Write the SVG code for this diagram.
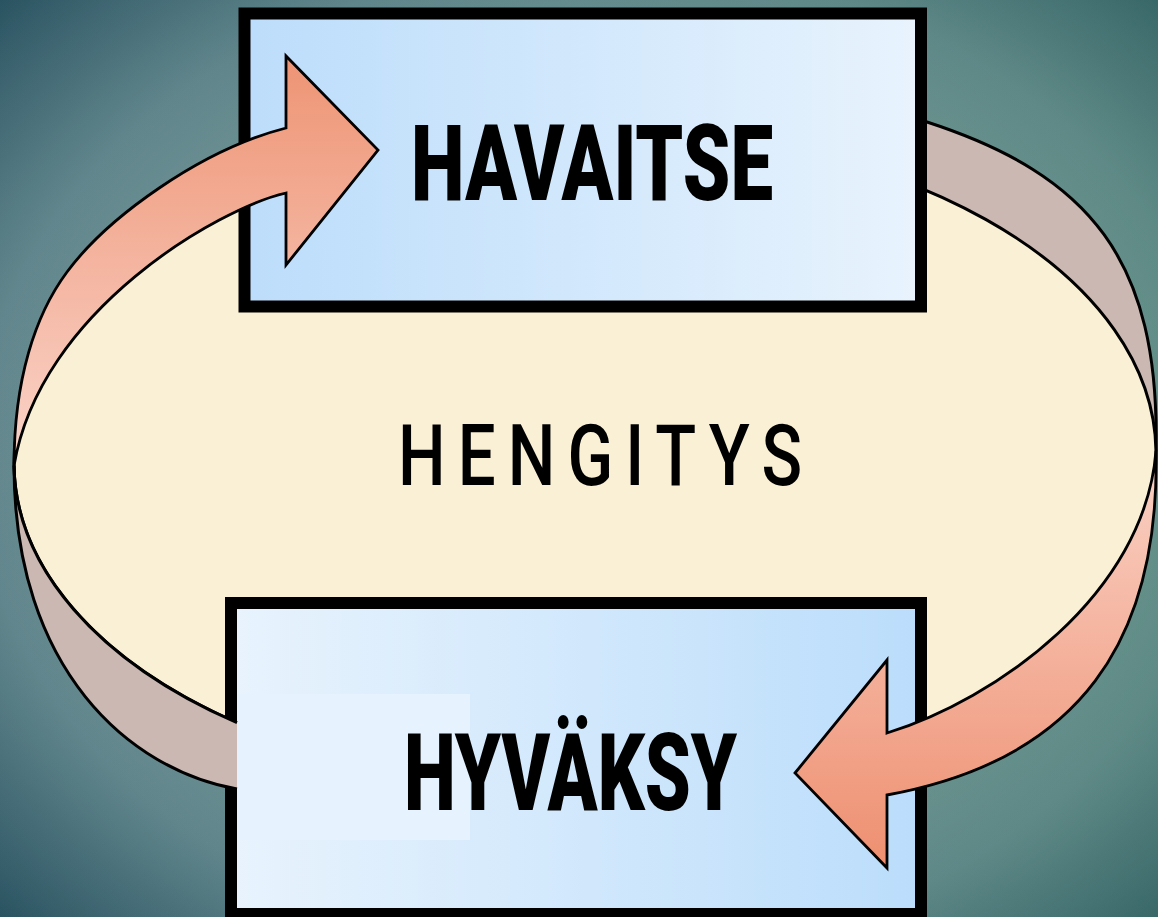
<svg xmlns="http://www.w3.org/2000/svg" width="1158" height="917" viewBox="0 0 1158 917">
  <defs>
    <radialGradient id="bg" cx="0.52" cy="0.5" r="0.72">
      <stop offset="0" stop-color="#A2BFB3"/>
      <stop offset="0.5" stop-color="#7E9F9D"/>
      <stop offset="0.75" stop-color="#66898D"/>
      <stop offset="1" stop-color="#28505D"/>
    </radialGradient>
    <linearGradient id="tint" x1="0" y1="0" x2="1" y2="0">
      <stop offset="0" stop-color="#3E6E86" stop-opacity="0.12"/>
      <stop offset="1" stop-color="#4C8C74" stop-opacity="0.3"/>
    </linearGradient>
    <linearGradient id="boxTop" x1="0" y1="0" x2="1" y2="0">
      <stop offset="0" stop-color="#BCDDFB"/>
      <stop offset="1" stop-color="#E8F3FD"/>
    </linearGradient>
    <linearGradient id="boxBottom" x1="0" y1="0" x2="1" y2="0">
      <stop offset="0" stop-color="#E8F3FD"/>
      <stop offset="1" stop-color="#BBDDFB"/>
    </linearGradient>
    <linearGradient id="arrowDown" x1="0" y1="0" x2="0" y2="1">
      <stop offset="0" stop-color="#EE9474"/>
      <stop offset="1" stop-color="#FAD4CA"/>
    </linearGradient>
    <linearGradient id="arrowUp" x1="0" y1="0" x2="0" y2="1">
      <stop offset="0" stop-color="#FAD2C6"/>
      <stop offset="1" stop-color="#EE8F70"/>
    </linearGradient>
  </defs>
  <style>
    .band { fill: #CBB8B2; stroke: #000; stroke-width: 3; stroke-linejoin: round; }
    .bandfill { fill: #CBB8B2; stroke: none; }
    .line { fill: none; stroke: #000; stroke-width: 3; }
    .cream { fill: #FAF0D5; stroke: #000; stroke-width: 3; }
    .box { stroke: #000; stroke-width: 12; }
    .arrow { stroke: #000; stroke-width: 2.8; stroke-linejoin: miter; }
    .title { font-family: Roboto, "Liberation Sans", sans-serif; font-weight: 900; fill: #000; }
    .center { font-family: Roboto, "Liberation Sans", sans-serif; font-weight: 500; fill: #000; }
  </style>

  <g id="background">
    <rect x="0" y="0" width="1158" height="917" fill="url(#bg)"/>
    <rect x="0" y="0" width="1158" height="917" fill="url(#tint)"/>
  </g>

  <g id="ring-back">
    <path class="band" d="M880,118 L927,122 C1090,175 1160,260 1156,450.5 L1050,450 L880,250 Z"/>
  </g>

  <g id="node-hengitys">
    <ellipse class="cream" cx="585" cy="458" rx="571" ry="330" transform="rotate(-0.75 585 458)"/>
    <text class="center" font-size="86" transform="translate(398,485) scale(0.78,1)" x="0" y="0" textLength="518" lengthAdjust="spacing">HENGITYS</text>
  </g>

  <g id="node-havaitse">
    <rect class="box" x="244.5" y="13.5" width="676.5" height="293" fill="url(#boxTop)"/>
    <text class="title" font-size="105" x="411" y="200" textLength="362" lengthAdjust="spacingAndGlyphs">HAVAITSE</text>
  </g>

  <g id="node-hyvaksy">
    <rect class="box" x="231" y="603" width="690" height="311" fill="url(#boxBottom)"/>
    <rect x="237" y="694" width="233" height="146" fill="#E6F2FE"/>
    <text class="title" font-size="107" x="404" y="810" textLength="333" lengthAdjust="spacingAndGlyphs">HYVÄKSY</text>
  </g>

  <g id="connectors">
    <path class="bandfill" d="M14.05,465.5 C14,670 130,770 237,789 L237,722.7 A571,330 -0.75 0 1 14.05,465.5 Z"/>
    <path class="line" d="M14.05,465.5 C14,670 130,770 237,789"/>
    <path class="line" d="M237,722.7 A571,330 -0.75 0 1 14.05,465.5"/>
    <path class="arrow" fill="url(#arrowDown)" d="M14.05,465.5 C14,380 35,315 67,272 C107,218 200,150 286,128 L286,56 L378,150 L286,265 L286,193 C220,208 40,310 14.05,465.5 Z"/>
    <path class="arrow" fill="url(#arrowUp)" d="M1156,450.5 C1160,640 1080,760 887,795 L887,868 L795,773 L887,660 L887,733 C995,700 1145,595 1156,450.5 Z"/>
  </g>
</svg>
